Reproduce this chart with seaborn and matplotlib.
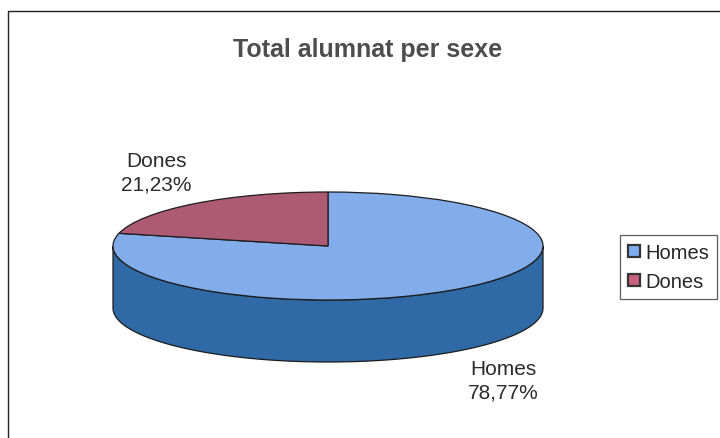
import numpy as np
import matplotlib
matplotlib.use("Agg")
import matplotlib.pyplot as plt
from matplotlib.patches import Polygon, Patch
from matplotlib.lines import Line2D
import seaborn as sns

# data
categories = ["Homes", "Dones"]
values = [78.77, 21.23]
title = "Total alumnat per sexe"

top_colors = ["#82acea", "#ad5b74"]
side_color = "#2f6aa6"
legend_colors = ["#7eaef0", "#c8607e"]

sns.set_theme(style="white")
plt.rcParams['font.family'] = ['Liberation Sans', 'DejaVu Sans']

W, H = 720, 439
fig = plt.figure(figsize=(7.2, 4.39), dpi=100)

# chart frame: only top and left edges are visible in the scan
fig.lines.append(Line2D([8 / W, 8 / W, 1.0], [0.0, 1 - 12 / H, 1 - 12 / H],
                        transform=fig.transFigure, color="#222222", linewidth=1.0))

# pie axes: unit circle squashed into an ellipse (rx 215 px, ry 54 px)
cx, cy, rx, ry = 328, 247, 215, 54
depth = 62 / ry
xlo, xhi = -1.1, 1.1
ylo, yhi = -1 - depth - 0.2, 1.2
left = (cx + xlo * rx) / W
bottom = (H - (cy - ylo * ry)) / H
ax = fig.add_axes([left, bottom, (xhi - xlo) * rx / W, (yhi - ylo) * ry / H])

# side band (front half of the cylinder), all Homes
t = np.linspace(np.pi, 2 * np.pi, 200)
top_edge = np.column_stack([np.cos(t), np.sin(t)])
bot_edge = np.column_stack([np.cos(t[::-1]), np.sin(t[::-1]) - depth])
ax.add_patch(Polygon(np.vstack([top_edge, bot_edge]), closed=True, facecolor=side_color,
                     edgecolor="#1c1c1c", linewidth=0.9, zorder=1))

wedges, _ = ax.pie(values, startangle=90, counterclock=False, colors=top_colors,
                   wedgeprops=dict(edgecolor="#1c1c1c", linewidth=0.9))
for w in wedges:
    w.set_zorder(2)
ax.set_aspect("auto")
ax.set_xlim(xlo, xhi)
ax.set_ylim(ylo, yhi)
ax.axis("off")

# title and data labels
fig.text(368 / W, 1 - 50 / H, title, ha="center", va="center", fontsize=18,
         fontweight="bold", color="#4d4d4d")

def lab(name, v):
    return f"{name}\n{v:.2f}%".replace(".", ",")

fig.text(156 / W, 1 - 173 / H, lab(categories[1], values[1]), ha="center", va="center",
         fontsize=15, color="#2b2b2b", linespacing=1.3)
fig.text(503 / W, 1 - 381 / H, lab(categories[0], values[0]), ha="center", va="center",
         fontsize=15, color="#2b2b2b", linespacing=1.3)

handles = [Patch(facecolor=c, edgecolor="#333333", linewidth=1.6) for c in legend_colors]
leg = fig.legend(handles, categories, loc="upper left", bbox_to_anchor=(620 / W, 1 - 236 / H),
                 fontsize=14.5, frameon=True, fancybox=False, handlelength=0.6, handleheight=0.6,
                 handletextpad=0.25, borderpad=0.4, labelspacing=0.5, borderaxespad=0)
leg.get_frame().set_edgecolor("#333333")
leg.get_frame().set_linewidth(0.9)

fig.savefig("out.png", dpi=100)
